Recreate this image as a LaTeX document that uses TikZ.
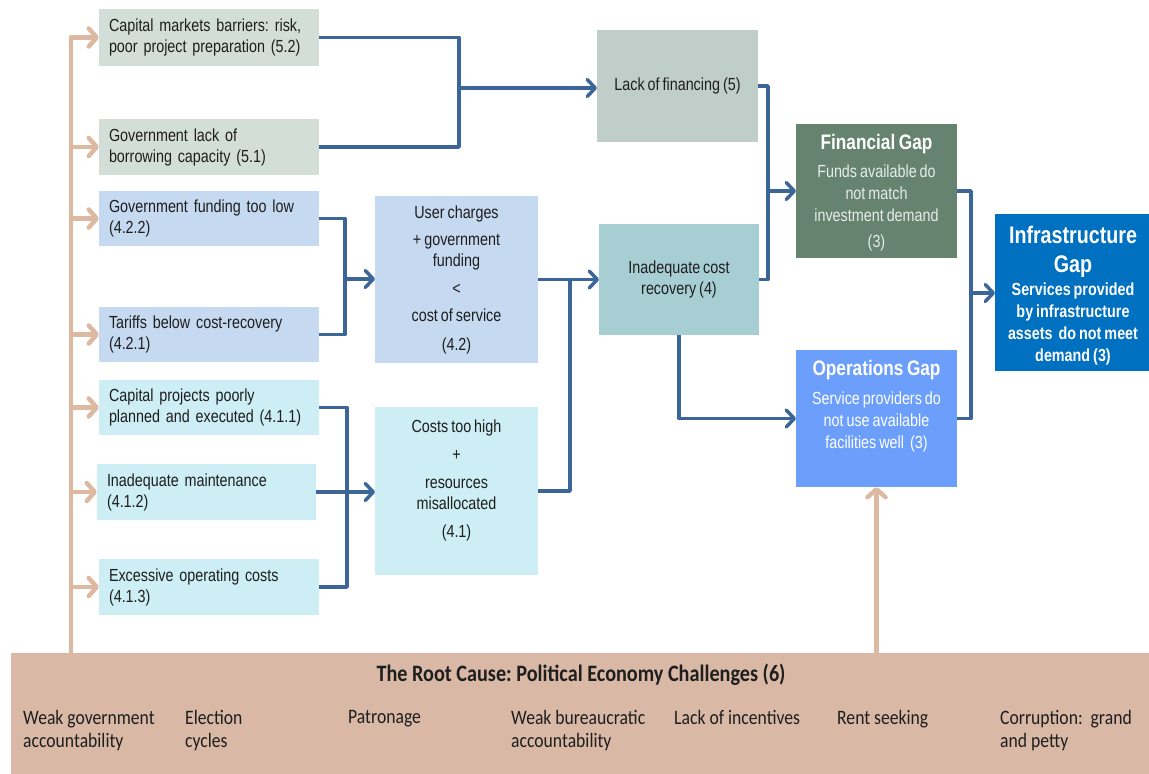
\documentclass[tikz,border=0pt]{standalone}
\usepackage{fontspec}
\setmainfont{Liberation Sans}[FakeStretch=0.82,WordSpace=0.75]
\newfontfamily\calfont{Carlito}[FakeStretch=0.86]
\usetikzlibrary{arrows.meta,calc}
\frenchspacing

\definecolor{lineblue}{HTML}{3B6697}
\definecolor{peach}{HTML}{DDB9A1}
\definecolor{fillA}{HTML}{D3DED8}
\definecolor{fillLF}{HTML}{BFCEC8}
\definecolor{fillB}{HTML}{C5D9F1}
\definecolor{fillC}{HTML}{CDEEF4}
\definecolor{fillICR}{HTML}{A7CED3}
\definecolor{fillFG}{HTML}{66836F}
\definecolor{fillOG}{HTML}{6C9FFC}
\definecolor{fillIG}{HTML}{0070C0}
\definecolor{fillRC}{HTML}{D9B9A5}
\definecolor{ink}{HTML}{1E1E1E}
\definecolor{paletext}{HTML}{E6EDE8}

\newcommand\bodyfont{\fontsize{17.5pt}{21pt}\selectfont\frenchspacing}
\newcommand\gapbody{\fontsize{17.5pt}{22pt}\selectfont\frenchspacing}
\newcommand\gaptitle{\fontsize{21pt}{25pt}\selectfont\bfseries}
\newcommand\bigtitle{\fontsize{24pt}{29pt}\selectfont\bfseries}
\newcommand\rootitem{\calfont\fontsize{20.5pt}{23pt}\selectfont\frenchspacing}
\newcommand\roottitle{\calfont\fontsize{23.5pt}{28pt}\selectfont\bfseries\frenchspacing}

\tikzset{
  box/.style={rectangle, inner sep=0pt, outer sep=0pt, draw=none, anchor=north west,
              fill=#1, text=ink, font=\bodyfont},
  causebox/.style={box=#1, text width=200pt, inner xsep=10pt, align=left},
  txt/.style={inner sep=0pt, align=center, text=ink, font=\bodyfont},
  conn/.style={draw=lineblue, line width=3.5pt, line join=round},
  arr/.style={conn, -{Straight Barb[length=8pt,width=17pt,round]}},
  parr/.style={draw=peach, line width=4.5pt, line join=round,
               -{Straight Barb[length=8pt,width=18pt,round]}},
  item/.style={inner sep=0pt, anchor=north west, align=left, text=ink, font=\rootitem}
}

\begin{document}
\begin{tikzpicture}[x=1pt,y=-1pt]
\useasboundingbox (0,0) rectangle (1149,774);

% left column: causes
\node[causebox=fillA, minimum height=57pt] (a1) at (99,9)
  {Capital markets barriers: risk,\\poor project preparation (5.2)};
\node[causebox=fillA, minimum height=56pt] (a2) at (99,119)
  {Government lack of\\borrowing capacity (5.1)};
\node[causebox=fillB, minimum height=55pt] (b1) at (99,191)
  {Government funding too low\\(4.2.2)};
\node[causebox=fillB, minimum height=55pt] (b2) at (99,307)
  {Tariffs below cost-recovery\\(4.2.1)};
\node[causebox=fillC, minimum height=55pt] (c1) at (99,380)
  {Capital projects poorly\\planned and executed (4.1.1)};
\node[causebox=fillC, minimum height=56pt, text width=199pt] (c2) at (97,464)
  {Inadequate maintenance\\(4.1.2)};
\node[causebox=fillC, minimum height=56pt] (c3) at (99,559)
  {Excessive operating costs\\(4.1.3)};

% middle column
\node[box=fillB, minimum width=163pt, minimum height=167pt, align=center] (uc) at (375,196)
  {User charges\\[6pt]+ government\\funding\\[7pt]<\\[6pt]cost of service\\[8pt](4.2)};
\node[box=fillC, minimum width=163pt, minimum height=168pt] (ct) at (375,407) {};
\node[txt] (ct-text) at (456.5,480.5)
  {Costs too high\\[7pt]+\\[7pt]resources\\misallocated\\[7pt](4.1)};

\node[box=fillLF, minimum width=161pt, minimum height=112pt] (lf) at (597,30)
  {Lack of financing (5)};
\node[box=fillICR, minimum width=160pt, minimum height=111pt, align=center] (icr) at (599,224)
  {Inadequate cost\\recovery (4)};

% gaps
\node[box=fillFG, minimum width=161pt, minimum height=134pt] (fg) at (796,124) {};
\node[txt, text=white, font=\gaptitle] (fg-title) at (876.5,144) {Financial Gap};
\node[txt, text=paletext, font=\gapbody] (fg-body) at (876.5,208)
  {Funds available do\\not match\\investment demand\\[4pt](3)};

\node[box=fillOG, minimum width=161pt, minimum height=137pt] (og) at (796,350) {};
\node[txt, text=white, font=\gaptitle] (og-title) at (876.5,370) {Operations Gap};
\node[txt, text=white, font=\gapbody] (og-body) at (876.5,422)
  {Service providers do\\not use available\\facilities well~ (3)};

\node[box=fillIG, minimum width=154pt, minimum height=157pt] (ig) at (995,214) {};
\node[txt, text=white, font=\bigtitle] (ig-title) at (1073,251.5) {Infrastructure\\Gap};
\node[txt, text=white, font=\gapbody\bfseries] (ig-body) at (1073,323.5)
  {Services provided\\by infrastructure\\assets~ do not meet\\demand (3)};

% root cause band
\node[box=fillRC, minimum width=1138pt, minimum height=121pt] (rc) at (11,653) {};
\node[txt, font=\roottitle] (rc-title) at (581,675)
  {The Root Cause: Political Economy Challenges (6)};
\node[item] (r1) at (23,710.5) {Weak government\\accountability};
\node[item] (r2) at (185,710.5) {Election\\cycles};
\node[item] (r3) at (348,710.5) {Patronage};
\node[item] (r4) at (511,710.5) {Weak bureaucratic\\accountability};
\node[item] (r5) at (674,710.5) {Lack of incentives};
\node[item] (r6) at (837,710.5) {Rent seeking};
\node[item] (r7) at (1000,710.5) {Corruption:~ grand\\and petty};

% junction points of the blue connectors
\coordinate (jA) at (459,88);
\coordinate (jB) at (345,279);
\coordinate (jC) at (347,492);
\coordinate (jD) at (570,279.5);
\coordinate (jE) at (768,191);
\coordinate (jF) at (971,293);

\draw[conn] (a1.east) -| (jA) |- (a2.east);
\draw[arr] (jA) -- (jA -| lf.west);

\draw[conn] (b1.east) -| (jB) |- (b2.east);
\draw[arr] (jB) -- (jB -| uc.west);

\draw[conn] (c1.east) -| (jC) |- (c3.east);
\draw[arr] (c2.east) -- (c2.east -| ct.west);

\draw[arr] (uc.east) -- (icr.west);
\draw[conn] (ct.east) -| (jD);

\draw[conn] (lf.east) -| (jE) |- (icr.east);
\draw[arr] (jE) -- (jE -| fg.west);
\draw[arr] (icr.south) |- (og.west);

\draw[conn] (fg.east) -| (jF) |- (og.east);
\draw[arr] (jF) -- (jF -| ig.west);

% peach connectors from the root cause
\coordinate (pBase) at (71,653);
\draw[parr] (pBase) |- (a1.west);
\foreach \n in {a2,b1,b2,c1,c2,c3}
  \draw[parr] (pBase |- \n.west) -- (\n.west);
\draw[parr] (og.south |- rc.north) -- (og.south);
\end{tikzpicture}
\end{document}
